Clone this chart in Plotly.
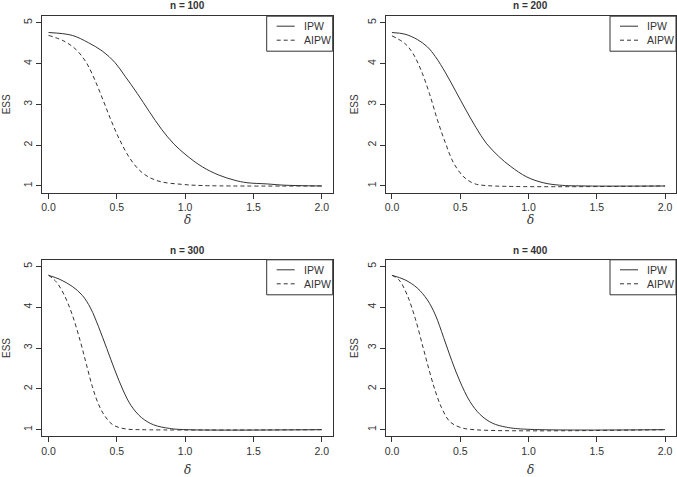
import plotly.graph_objects as go

# ---- data ----
panel_titles = ["n = 100", "n = 200", "n = 300", "n = 400"]
series_names = ["IPW", "AIPW"]
x_ticks = [0.0, 0.5, 1.0, 1.5, 2.0]
x_tick_labels = ["0.0", "0.5", "1.0", "1.5", "2.0"]
y_ticks = [1, 2, 3, 4, 5]

ipw_100_x = [0, 0.173, 0.292, 0.396, 0.485, 0.56, 0.649, 0.738, 0.827, 0.917, 1.006, 1.125, 1.244, 1.363, 1.452, 1.6, 1.72, 2.0]
ipw_100_y = [4.76, 4.69, 4.51, 4.30, 4.03, 3.69, 3.27, 2.82, 2.39, 2.03, 1.76, 1.47, 1.27, 1.14, 1.08, 1.05, 1.02, 1.0]
aipw_100_x = [0, 0.113, 0.202, 0.277, 0.336, 0.396, 0.455, 0.515, 0.589, 0.664, 0.738, 0.827, 0.976, 1.125, 2.0]
aipw_100_y = [4.69, 4.55, 4.34, 4.02, 3.62, 3.13, 2.63, 2.17, 1.71, 1.39, 1.21, 1.10, 1.04, 1.01, 1.0]

ipw_200_x = [0, 0.095, 0.185, 0.259, 0.318, 0.393, 0.467, 0.542, 0.616, 0.69, 0.78, 0.869, 0.988, 1.107, 1.226, 1.43, 2.0]
ipw_200_y = [4.76, 4.72, 4.59, 4.41, 4.17, 3.77, 3.32, 2.86, 2.43, 2.05, 1.73, 1.48, 1.22, 1.08, 1.02, 1.0, 1.0]
aipw_200_x = [0, 0.095, 0.155, 0.214, 0.274, 0.333, 0.393, 0.452, 0.527, 0.601, 0.69, 2.0]
aipw_200_y = [4.68, 4.49, 4.24, 3.83, 3.27, 2.62, 2.04, 1.56, 1.22, 1.06, 1.01, 1.0]

ipw_300_x = [0, 0.083, 0.173, 0.247, 0.307, 0.366, 0.426, 0.485, 0.545, 0.604, 0.679, 0.768, 0.887, 1.006, 2.0]
ipw_300_y = [4.78, 4.68, 4.51, 4.29, 3.98, 3.52, 2.99, 2.46, 1.97, 1.59, 1.30, 1.12, 1.03, 1.0, 1.0]
aipw_300_x = [0, 0.054, 0.113, 0.173, 0.232, 0.277, 0.321, 0.366, 0.411, 0.47, 0.56, 0.679, 2.0]
aipw_300_y = [4.78, 4.63, 4.31, 3.82, 3.17, 2.60, 2.05, 1.62, 1.34, 1.12, 1.02, 1.0, 1.0]

ipw_400_x = [0, 0.095, 0.185, 0.259, 0.318, 0.378, 0.438, 0.497, 0.571, 0.646, 0.735, 0.839, 0.988, 2.0]
ipw_400_y = [4.78, 4.67, 4.47, 4.18, 3.81, 3.26, 2.69, 2.19, 1.69, 1.37, 1.16, 1.06, 1.01, 1.0]
aipw_400_x = [0, 0.051, 0.11, 0.17, 0.229, 0.274, 0.318, 0.363, 0.423, 0.497, 0.601, 2.0]
aipw_400_y = [4.78, 4.67, 4.31, 3.73, 3.00, 2.44, 1.94, 1.54, 1.20, 1.06, 1.0, 1.0]

panels = [
    (ipw_100_x, ipw_100_y, aipw_100_x, aipw_100_y),
    (ipw_200_x, ipw_200_y, aipw_200_x, aipw_200_y),
    (ipw_300_x, ipw_300_y, aipw_300_x, aipw_300_y),
    (ipw_400_x, ipw_400_y, aipw_400_x, aipw_400_y),
]

# ---- layout geometry (pixels of the 677x477 canvas) ----
W, H = 677, 477
INK = "#333333"
FONT = "Liberation Sans, Arial, sans-serif"
box_left = [42.4, 385.8, 42.4, 385.8]
box_right = [332.7, 676.0, 332.7, 676.0]
box_top = [16.2, 16.2, 259.8, 259.8]
box_bottom = [192.5, 192.5, 436.2, 436.2]
xlabel_px = [220, 220, 470, 470]
ylabel_px = [6, 354, 6, 354]
title_px = [6, 6, 250, 250]
DASH = "4px,3px"


def px(x):
    return x / W


def py(y):
    return 1 - y / H


fig = go.Figure()
layout = dict(
    width=W, height=H,
    margin=dict(l=0, r=0, t=0, b=0),
    paper_bgcolor="white", plot_bgcolor="white",
    font=dict(family=FONT, color=INK, size=10),
    showlegend=False,
    annotations=[], shapes=[],
)

for i, (ix, iy, ax, ay) in enumerate(panels):
    k = "" if i == 0 else str(i + 1)
    fig.add_trace(go.Scatter(x=ix, y=iy, mode="lines", name=series_names[0],
                             line=dict(color=INK, width=1, shape="spline", smoothing=1.0),
                             xaxis="x" + k, yaxis="y" + k))
    fig.add_trace(go.Scatter(x=ax, y=ay, mode="lines", name=series_names[1],
                             line=dict(color=INK, width=1, dash=DASH, shape="spline", smoothing=1.0),
                             xaxis="x" + k, yaxis="y" + k))
    xd = [px(box_left[i]), px(box_right[i])]
    yd = [py(box_bottom[i]), py(box_top[i])]
    layout["xaxis" + k] = dict(
        domain=xd, anchor="y" + k, range=[-0.045, 2.08],
        tickvals=x_ticks, ticktext=x_tick_labels, ticks="outside", ticklen=5,
        tickcolor=INK, showline=True, linecolor=INK, linewidth=1, mirror=True,
        showgrid=False, zeroline=False, tickfont=dict(size=10.5, color=INK),
    )
    layout["yaxis" + k] = dict(
        domain=yd, anchor="x" + k, range=[0.84, 5.16],
        tickvals=y_ticks, ticks="outside", ticklen=5, tickangle=-90,
        tickcolor=INK, showline=True, linecolor=INK, linewidth=1, mirror=True,
        showgrid=False, zeroline=False, tickfont=dict(size=10.5, color=INK),
    )
    xc = (xd[0] + xd[1]) / 2
    yc = (yd[0] + yd[1]) / 2
    layout["annotations"] += [
        dict(text="<b>" + panel_titles[i] + "</b>", x=xc, y=py(title_px[i]), xref="paper", yref="paper",
             xanchor="center", yanchor="middle", showarrow=False, font=dict(size=10, color=INK)),
        dict(text="<i>δ</i>", x=xc, y=py(xlabel_px[i]), xref="paper", yref="paper",
             xanchor="center", yanchor="middle", showarrow=False,
             font=dict(size=12, color=INK, family="DejaVu Serif, serif")),
        dict(text="ESS", x=px(ylabel_px[i]), y=yc, xref="paper", yref="paper", textangle=-90,
             xanchor="center", yanchor="middle", showarrow=False, font=dict(size=10, color=INK)),
    ]
    # legend (drawn as in the R original: framed box with line samples)
    R, T = box_right[i], box_top[i]
    layout["shapes"].append(dict(type="rect", xref="paper", yref="paper",
                                 x0=px(R - 66), x1=px(R), y0=py(T + 35), y1=py(T),
                                 line=dict(color=INK, width=1), fillcolor="white"))
    for j, (name, dash) in enumerate([(series_names[0], "solid"), (series_names[1], DASH)]):
        yy = T + 10 + 14 * j
        layout["shapes"].append(dict(type="line", xref="paper", yref="paper",
                                     x0=px(R - 56), x1=px(R - 38), y0=py(yy), y1=py(yy),
                                     line=dict(color=INK, width=1, dash=dash)))
        layout["annotations"].append(dict(text=name, x=px(R - 31), y=py(yy), xref="paper", yref="paper",
                                          xanchor="left", yanchor="middle", showarrow=False,
                                          font=dict(size=10.5, color=INK)))

fig.update_layout(**layout)
fig.write_html("out.html", config={"displayModeBar": False},
               post_script="document.body.style.margin='0';document.body.style.overflow='hidden';")
